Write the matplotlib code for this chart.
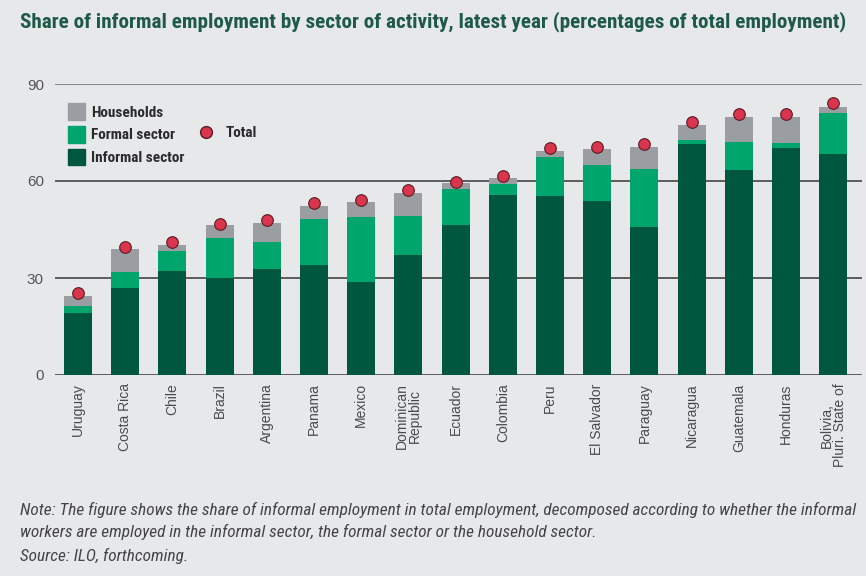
import numpy as np
import matplotlib
matplotlib.use("Agg")
import matplotlib.pyplot as plt
from matplotlib.patches import Patch
from matplotlib.lines import Line2D

# Data (percent of total employment)
countries = ["Uruguay", "Costa Rica", "Chile", "Brazil", "Argentina", "Panama",
             "Mexico", "Dominican\nRepublic", "Ecuador", "Colombia", "Peru",
             "El Salvador", "Paraguay", "Nicaragua", "Guatemala", "Honduras",
             "Bolivia,\nPluri. State of"]
informal_sector = [19.3, 26.9, 32.1, 30.0, 32.8, 33.9, 28.8, 37.2, 46.4, 55.8,
                   55.3, 53.9, 45.9, 71.4, 63.3, 70.1, 68.5]
formal_sector = [2.0, 5.1, 6.4, 12.3, 8.4, 14.3, 20.0, 12.0, 11.0, 3.2,
                 12.1, 11.0, 17.7, 1.2, 8.8, 1.8, 12.4]
households = [3.1, 7.0, 1.8, 4.0, 5.9, 4.2, 4.6, 7.0, 2.1, 1.9,
              2.0, 4.9, 6.9, 4.6, 7.8, 8.0, 2.1]
total = [25.3, 39.7, 41.2, 46.7, 47.9, 53.1, 54.1, 57.2, 59.8, 61.4,
         70.1, 70.6, 71.5, 78.4, 80.7, 80.7, 84.0]

bg = "#E6E8EA"
c_informal = "#00573F"
c_formal = "#00A56C"
c_house = "#9A9EA2"
c_total = "#D9364E"
cond = ["Roboto Condensed", "DejaVu Sans"]

fig = plt.figure(figsize=(8.66, 5.76), dpi=100, facecolor=bg)
ax = fig.add_axes([55 / 866, 1 - 375 / 576, 807 / 866, 291 / 576], facecolor=bg)

x = np.arange(len(countries))
w = 0.59
inf = np.array(informal_sector)
frm = np.array(formal_sector)
hh = np.array(households)

ax.bar(x, inf, w, color=c_informal, zorder=3)
ax.bar(x, frm, w, bottom=inf, color=c_formal, zorder=3)
ax.bar(x, hh, w, bottom=inf + frm, color=c_house, zorder=3)
ax.scatter(x, total, s=70, color=c_total, edgecolor="#5a1a22", linewidth=0.8, zorder=4)

ax.set_ylim(0, 90)
ax.set_xlim(-0.487, 16.61)
ax.set_yticks([0, 30, 60, 90])
ax.yaxis.grid(True, color="#444444", linewidth=1.2, zorder=0)
ax.get_ygridlines()[-1].set_color("#777777")
ax.tick_params(axis="y", length=0, pad=8, labelsize=11, labelcolor="#555555")
ax.tick_params(axis="x", length=0, pad=6)
for s in ax.spines.values():
    s.set_visible(False)
for lbl in ax.get_yticklabels():
    lbl.set_family(["Liberation Sans", "DejaVu Sans"])
ax.set_xticks(x)
ax.set_xticklabels(countries, rotation=90, fontsize=10, color="#4a4a4a",
                   va="top", ha="center", linespacing=0.9,
                   family=["Liberation Sans", "DejaVu Sans"])

# legend
leg_font = {"family": cond, "weight": "bold", "size": 11}
h1 = [Patch(color=c_house), Patch(color=c_formal), Patch(color=c_informal)]
leg1 = ax.legend(h1, ["Households", "Formal sector", "Informal sector"],
                 loc="upper left", bbox_to_anchor=(0.009, 0.955), frameon=False,
                 prop=leg_font, handlelength=1.1, handleheight=1.3,
                 labelspacing=0.4, handletextpad=0.4, borderaxespad=0)
for t in leg1.get_texts():
    t.set_color("#2b2b2b")
ax.add_artist(leg1)
h2 = [Line2D([], [], marker="o", linestyle="none", markersize=8.5,
             markerfacecolor=c_total, markeredgecolor="#5a1a22")]
leg2 = ax.legend(h2, ["Total"], loc="upper left", bbox_to_anchor=(0.16, 0.875),
                 frameon=False, prop=leg_font, handletextpad=0.3, borderaxespad=0)
for t in leg2.get_texts():
    t.set_color("#2b2b2b")

fig.text(20 / 866, 1 - 22 / 576,
         "Share of informal employment by sector of activity, latest year (percentages of total employment)",
         family=cond, weight="bold", fontsize=15.2,
         color="#1E5A45", va="center", ha="left")

note_font = dict(family=cond, style="italic",
                 fontsize=12.4, color="#444444", va="center", ha="left")
fig.text(20 / 866, 1 - 510 / 576,
         "Note: The figure shows the share of informal employment in total employment, decomposed according to whether the informal",
         **note_font)
fig.text(20 / 866, 1 - 532 / 576,
         "workers are employed in the informal sector, the formal sector or the household sector.",
         **note_font)
fig.text(20 / 866, 1 - 556 / 576, "Source: ILO, forthcoming.", **note_font)

fig.savefig("out.png", dpi=100, facecolor=bg)
